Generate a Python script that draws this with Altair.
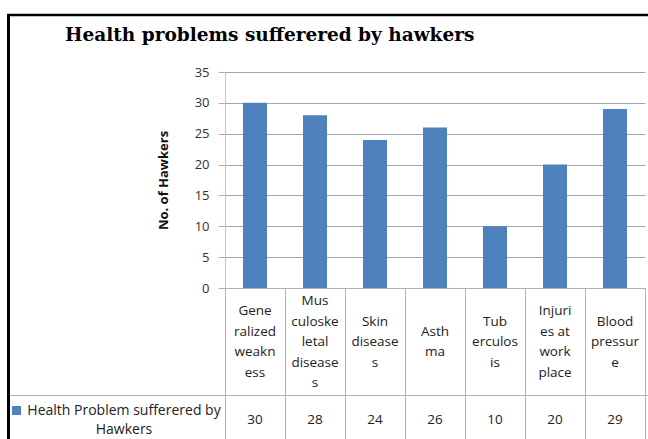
import altair as alt
import pandas as pd

categories = ["Generalized weakness", "Musculoskeletal diseases", "Skin diseases",
              "Asthma", "Tuberculosis", "Injuries at work place", "Blood pressure"]
header_labels = ["Gene\nralized\nweakn\ness", "Mus\nculoske\nletal\ndisease\ns",
                 "Skin\ndisease\ns", "Asth\nma", "Tub\nerculos\nis",
                 "Injuri\nes at\nwork\nplace", "Blood\npressur\ne"]
values = [30, 28, 24, 26, 10, 20, 29]
y_ticks = [0, 5, 10, 15, 20, 25, 30, 35]
series_name = "Health Problem sufferered  by\nHawkers"
chart_title = "Health problems sufferered by hawkers"
y_title = "No. of Hawkers"

BLUE = "#4f81bd"
GRID = "#a6a6a6"
LINE = "#b0b0b0"
FONT = "Open Sans"
LH = 20.5

df = pd.DataFrame({"cat": categories, "lab": header_labels, "val": values})
one = pd.DataFrame({"t": [chart_title], "s": [series_name]})

x_enc = alt.X("cat:N", sort=categories,
              scale=alt.Scale(paddingInner=0, paddingOuter=0),
              axis=alt.Axis(title=None, labels=False, tickBand="extent", tickSize=151,
                            tickColor=LINE, domainColor=LINE, grid=False))

bars = alt.Chart(df).mark_bar(color=BLUE, width=alt.RelativeBandSize(0.4)).encode(
    x=x_enc,
    y=alt.Y("val:Q", scale=alt.Scale(domain=[0, 35], nice=False),
            axis=alt.Axis(values=y_ticks, tickSize=7, tickColor=LINE, domainColor="#c8c8c8",
                          gridColor=GRID, labelFontSize=13, labelFont=FONT, labelColor="#333333",
                          labelPadding=9, title=y_title, titleFont=FONT, titleFontSize=13,
                          titleFontWeight="bold", titleColor="#111111", titlePadding=24))
)

# vertically centre each multi-line header label in the header row
header = alt.Chart(df).transform_calculate(
    n="length(split(datum.lab, '\\n'))"
).transform_calculate(
    ypos=f"270 - (datum.n - 1) * {LH} / 2"
).mark_text(lineBreak="\n", baseline="middle", align="center",
            fontSize=13.5, font=FONT, lineHeight=LH, color="#222222").encode(
    x=alt.X("cat:N", sort=categories),
    y=alt.Y("ypos:Q", scale=None),
    text="lab:N")

nums = alt.Chart(df).mark_text(baseline="middle", align="center", fontSize=13.5, font=FONT,
                               color="#222222").encode(
    x=alt.X("cat:N", sort=categories), y=alt.value(348), text="val:Q")

row_line = alt.Chart(one).mark_rule(color=LINE, strokeWidth=1).encode(
    x=alt.value(-218), x2=alt.value(423), y=alt.value(323.5))

frame_left = alt.Chart(one).mark_rule(color="#000000", strokeWidth=3).encode(
    x=alt.value(-216.5), y=alt.value(-58), y2=alt.value(370))
frame_top = alt.Chart(one).mark_rule(color="#000000", strokeWidth=2.5).encode(
    x=alt.value(-218), x2=alt.value(430), y=alt.value(-57))

key = alt.Chart(one).mark_square(color=BLUE, size=81, opacity=1).encode(
    x=alt.value(-208.5), y=alt.value(338.5))

series_txt = alt.Chart(one).mark_text(lineBreak="\n", baseline="middle", align="center",
                                      fontSize=14, font=FONT, lineHeight=19,
                                      color="#222222").encode(
    x=alt.value(-101), y=alt.value(339), text="s:N")

title = alt.Chart(one).mark_text(align="left", baseline="alphabetic", font="DejaVu Serif",
                                 fontWeight="bold", fontSize=18.5, color="#000000").encode(
    x=alt.value(-160), y=alt.value(-31), text="t:N")

chart = alt.layer(bars, header, nums, row_line, frame_left, frame_top, key, series_txt, title).properties(
    width=420, height=216,
    autosize=alt.AutoSizeParams(type="none"),
    padding={"left": 225, "top": 72, "right": 3, "bottom": 151},
    background="white"
).configure_view(stroke=None)

chart.save("out.html", embed_options={"renderer": "svg", "actions": False})
